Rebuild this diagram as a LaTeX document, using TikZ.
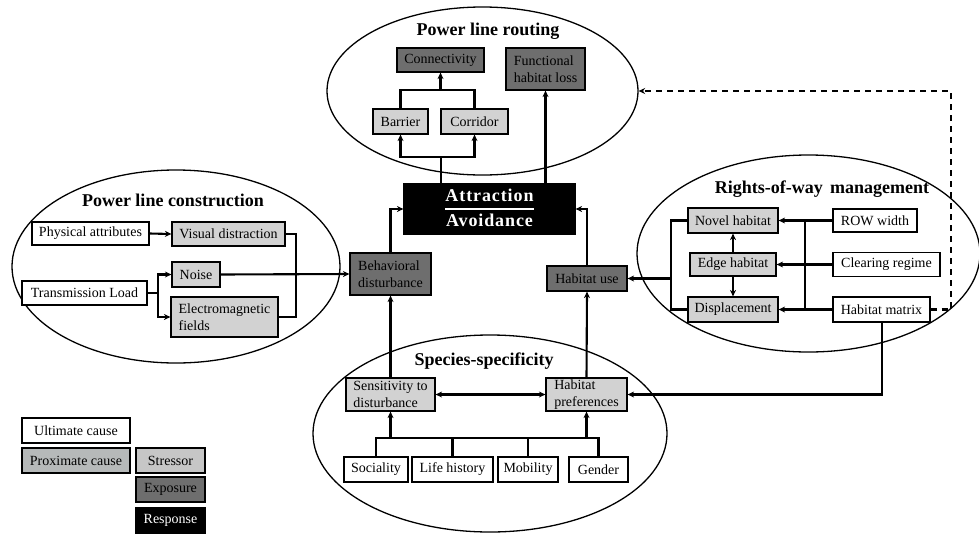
\documentclass[tikz,border=0pt]{standalone}
\usepackage{fontspec}
\setmainfont{Liberation Serif}
\usetikzlibrary{shapes.geometric,arrows.meta}
\definecolor{lightg}{HTML}{D2D2D2}
\definecolor{proxg}{HTML}{B6B9B9}
\definecolor{stressg}{HTML}{C6C6C6}
\definecolor{darkg}{HTML}{6E6E6E}
\begin{document}
\begin{tikzpicture}[x=1pt,y=-1pt,
  every node/.style={font=\fontsize{14}{16.5}\selectfont},
  bx/.style={draw, line width=1.2pt, inner sep=0pt, align=left},
  wbox/.style={bx, fill=white},
  lbox/.style={bx, fill=lightg},
  dbox/.style={bx, fill=darkg},
  kbox/.style={bx, fill=black, text=white},
  region/.style={draw, ellipse, line width=1.3pt, inner sep=0pt},
  ttl/.style={font=\fontsize{18}{20}\bfseries\selectfont},
  con/.style={line width=2.1pt},
  arr/.style={con, -{Stealth[length=6.5pt,width=6pt]}},
  darr/.style={con, {Stealth[length=6.5pt,width=6pt]}-{Stealth[length=6.5pt,width=6pt]}},
]
\useasboundingbox (0,0) rectangle (979,533);
% regions
\node[region, minimum width=311pt, minimum height=168pt] (routing) at (482.5,91) {};
\node[region, minimum width=328pt, minimum height=193pt] (constr) at (176,266.5) {};
\node[region, minimum width=343pt, minimum height=197pt] (row) at (808.5,253.5) {};
\node[region, minimum width=354pt, minimum height=197pt] (species) at (490,433.5) {};
\node[ttl] (troute) at (488,31) {Power line routing};
\node[ttl] (tconstr) at (173,200) {Power line construction};
\node[ttl] (trow) at (822,189.5) {Rights-of-way\, management};
\node[ttl] (tspec) at (484,361.5) {Species-specificity};
% routing
\node[dbox, minimum width=87pt, minimum height=24pt] (conn) at (440.5,60) {Connectivity};
\node[dbox, minimum width=79pt, minimum height=42pt] (fhl) at (545.5,69) {Functional\\habitat loss};
\node[lbox, minimum width=55pt, minimum height=25pt] (barrier) at (400.5,121.5) {Barrier};
\node[lbox, minimum width=67pt, minimum height=25pt] (corridor) at (474.5,121.5) {Corridor};
\node[kbox, minimum width=171pt, minimum height=50pt, align=center] (attr) at (489.5,209)
  {\fontsize{18}{21}\bfseries\addfontfeatures{LetterSpace=5}\selectfont
   \setlength\arrayrulewidth{1.3pt}\renewcommand\arraystretch{1.15}%
   \begin{tabular}{@{}c@{}}Attraction\\\hline Avoidance\end{tabular}};
\node[dbox, minimum width=81pt, minimum height=42pt] (behav) at (390.5,274) {Behavioral\\disturbance};
\node[dbox, minimum width=80pt, minimum height=25pt] (huse) at (587,278.5) {Habitat use};
% construction
\node[wbox, minimum width=117pt, minimum height=23pt] (phys) at (90.5,233.5) {Physical attributes};
\node[lbox, minimum width=113pt, minimum height=24pt] (visual) at (228.5,234) {Visual distraction};
\node[lbox, minimum width=48pt, minimum height=25pt] (noise) at (196,274.5) {Noise};
\node[wbox, minimum width=125pt, minimum height=24pt] (trans) at (84.5,293) {Transmission Load};
\node[lbox, minimum width=107pt, minimum height=40pt] (emf) at (224.5,317) {Electromagnetic\\fields};
% rights of way
\node[lbox, minimum width=90pt, minimum height=25pt] (novel) at (733,220.5) {Novel habitat};
\node[lbox, minimum width=86pt, minimum height=23pt] (edge) at (733,264.5) {Edge habitat};
\node[lbox, minimum width=90pt, minimum height=25pt] (displ) at (733,309.5) {Displacement};
\node[wbox, minimum width=84pt, minimum height=23pt] (roww) at (875,220.5) {ROW width};
\node[wbox, minimum width=107pt, minimum height=24pt] (clear) at (886.5,264.5) {Clearing regime};
\node[wbox, minimum width=97pt, minimum height=25pt] (hmat) at (881.5,309.5) {Habitat matrix};
% species
\node[lbox, minimum width=89pt, minimum height=33pt] (sens) at (390.5,394.5) {Sensitivity to\\disturbance};
\node[lbox, minimum width=81pt, minimum height=33pt] (hpref) at (586.5,394.5) {Habitat\\preferences};
\node[wbox, minimum width=64pt, minimum height=25pt] (soc) at (376,469.5) {Sociality};
\node[wbox, minimum width=81pt, minimum height=25pt] (life) at (452.5,469.5) {Life history};
\node[wbox, minimum width=60pt, minimum height=25pt] (mob) at (528,469.5) {Mobility};
\node[wbox, minimum width=59pt, minimum height=25pt] (gend) at (598.5,469.5) {Gender};
% legend
\node[wbox, minimum width=108pt, minimum height=25pt] (ult) at (76,430.5) {Ultimate cause};
\node[bx, fill=proxg, minimum width=108pt, minimum height=25pt] (prox) at (76,460.5) {Proximate cause};
\node[bx, fill=stressg, minimum width=69pt, minimum height=25pt] (stress) at (170.5,460.5) {Stressor};
\node[dbox, minimum width=69pt, minimum height=25pt] (expo) at (170.5,489.5) {Exposure};
\node[kbox, minimum width=70pt, minimum height=25pt] (resp) at (170.5,520.5) {Response};
% routing connectors
\coordinate (rsplit) at (441,157);
\coordinate (rjoin) at (440.5,90);
\draw[con] (rsplit |- attr.north) -- (rsplit);
\draw[arr] (rsplit) -| (barrier.south);
\draw[arr] (rsplit) -| (corridor.south);
\draw[con] (barrier.north) |- (rjoin);
\draw[con] (corridor.north) |- (rjoin);
\draw[arr] (rjoin) -- (conn.south);
\draw[arr] (fhl.south |- attr.north) -- (fhl.south);
\draw[arr] (behav.north) |- (attr.west);
\draw[arr] (huse.north) |- (attr.east);
% construction connectors
\coordinate (tsplit) at (158,293);
\coordinate (vbend) at (296,234);
\draw[arr] (phys.east) -- (visual.west);
\draw[con] (trans.east) -- (tsplit);
\draw[arr] (tsplit) |- (noise.west);
\draw[arr] (tsplit) |- (emf.west);
\draw[con] (visual.east) -- (vbend) |- (emf.east);
\draw[arr] (noise.east) -- (behav.west);
% rights-of-way connectors
\coordinate (lbus) at (671,278.5);
\coordinate (rbus) at (805,220.5);
\draw[con] (novel.west) -| (lbus) |- (displ.west);
\draw[arr] (lbus) -- (huse.east);
\draw[arr] (roww.west) -- (novel.east);
\draw[arr] (clear.west) -- (edge.east);
\draw[arr] (hmat.west) -- (displ.east);
\draw[con] (rbus) -- (rbus |- hmat.west);
\draw[arr] (edge.north) -- (novel.south);
\draw[arr] (edge.south) -- (displ.north);
\coordinate (dash1) at (951,309.5);
\draw[arr, dash pattern=on 6pt off 5pt] (hmat.east) -- (dash1) |- (routing.east);
\coordinate (hmdown) at (882,398);
\draw[arr] (hmat.south -| hmdown) |- (hpref.east);
% species connectors
\coordinate (sbus) at (376,438);
\draw[arr] (sens.north) -- (behav.south);
\draw[arr] (hpref.north) -- (huse.south);
\draw[darr] (sens.east) -- (hpref.west);
\draw[con] (soc.north) |- (sbus) -- (sbus -| gend.north) -- (gend.north);
\draw[con] (life.north) -- (life.north |- sbus);
\draw[con] (mob.north) -- (mob.north |- sbus);
\draw[arr] (sens.south |- sbus) -- (sens.south);
\draw[arr] (hpref.south |- sbus) -- (hpref.south);
\end{tikzpicture}
\end{document}
